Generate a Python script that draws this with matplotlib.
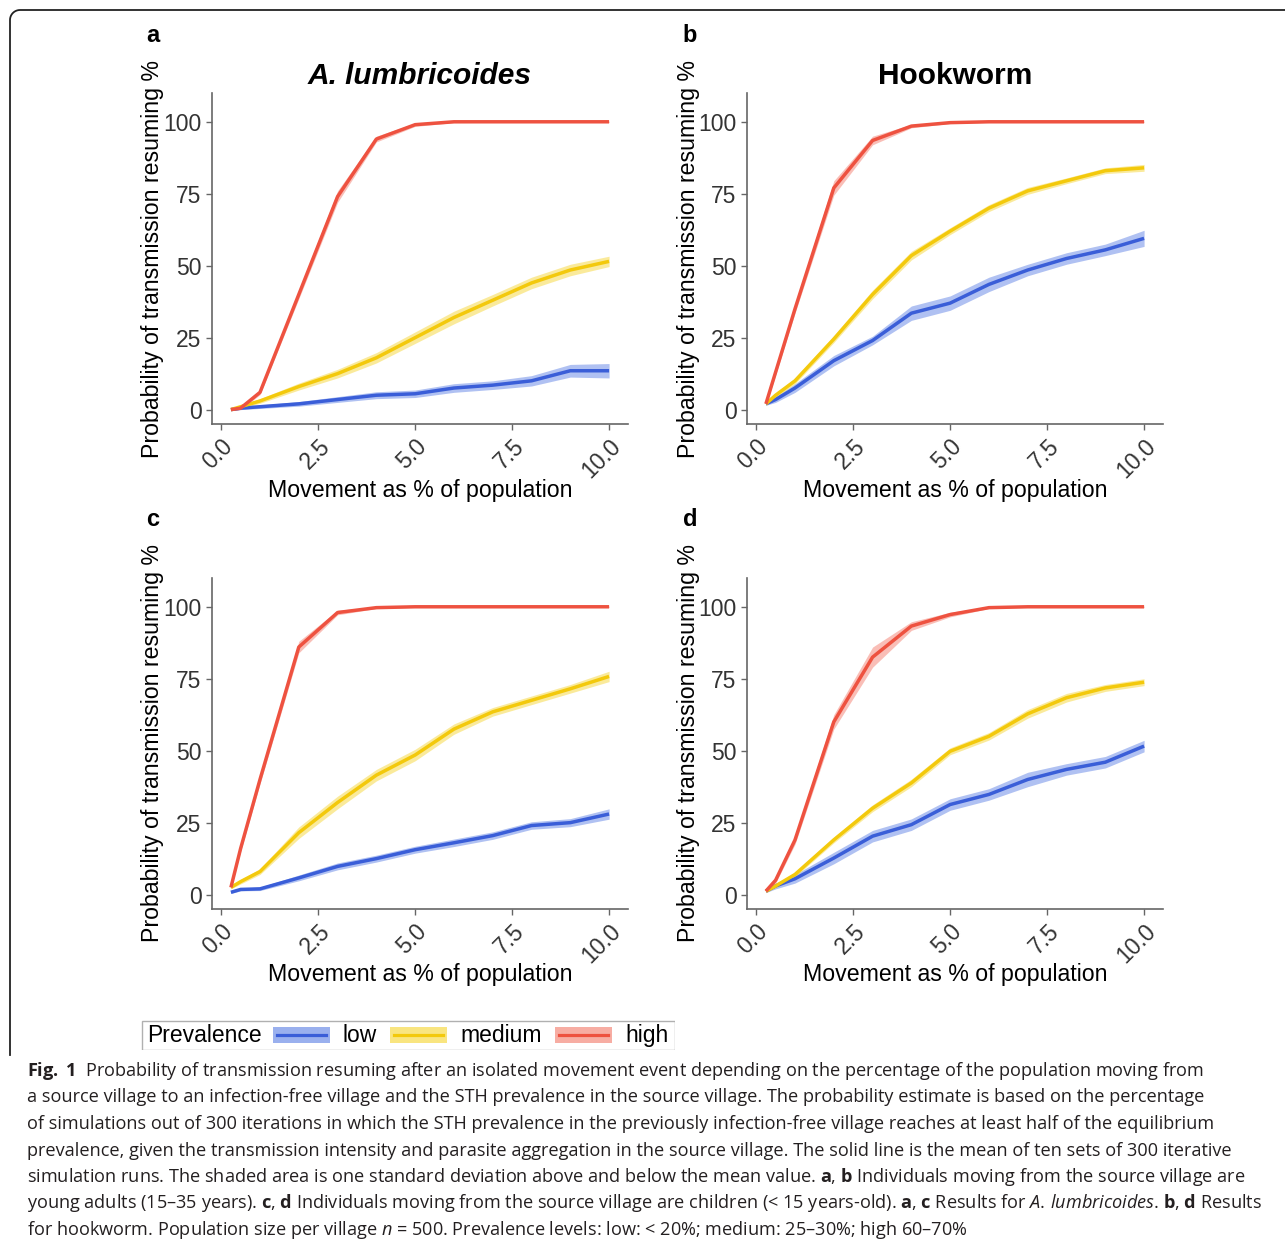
import numpy as np
import matplotlib
matplotlib.use("Agg")
import matplotlib.pyplot as plt
from matplotlib.lines import Line2D
from matplotlib.patches import Rectangle

plt.rcParams['font.family'] = ['Liberation Sans', 'DejaVu Sans']
plt.rcParams['mathtext.fontset'] = 'custom'
plt.rcParams['mathtext.rm'] = 'Open Sans'
plt.rcParams['mathtext.it'] = 'Open Sans:italic'
plt.rcParams['mathtext.bf'] = 'Open Sans:bold'

# movement as % of population (x values of the simulations)
movement = [0.25, 0.5, 1, 2, 3, 4, 5, 6, 7, 8, 9, 10]
levels = ["low", "medium", "high"]
colors = {"low": "#3a5ed8", "medium": "#f3c90c", "high": "#ee5240"}
fills = {"low": "#6f8fe8", "medium": "#f7da4a", "high": "#f58a7c"}

# a: A. lumbricoides, young adults
a_low = [0, 0.5, 1, 2, 3.5, 5, 5.5, 7.5, 8.5, 10, 13.5, 13.5]
a_med = [0, 1, 3, 8, 12.5, 18, 25, 32, 38, 44, 48.5, 51.5]
a_high = [0, 0.5, 6, 40, 74, 94, 99, 100, 100, 100, 100, 100]
a_low_sd = [0.3, 0.5, 0.6, 0.8, 1, 1.2, 1.3, 1.5, 1.5, 1.8, 2.2, 2.5]
a_med_sd = [0.5, 0.6, 0.8, 1.2, 1.5, 1.8, 2, 2.2, 2, 2, 2, 1.8]
a_high_sd = [0.3, 0.5, 0.8, 1.5, 2, 1, 0.6, 0.3, 0.2, 0.2, 0.2, 0.2]

# b: hookworm, young adults
b_low = [2, 3.5, 7.5, 17, 24, 33.5, 37, 43.5, 48.5, 52.5, 55.5, 59.5]
b_med = [2, 5, 10, 24.5, 40, 53.5, 62, 70, 76, 79.5, 83, 84]
b_high = [2, 13, 35, 77, 93.5, 98.5, 99.7, 100, 100, 100, 100, 100]
b_low_sd = [0.5, 1, 1.5, 1.8, 1.5, 2.5, 2.5, 2.5, 2, 2, 2, 2.8]
b_med_sd = [0.5, 0.8, 1, 1.2, 1.5, 1.5, 1.2, 1.2, 1.2, 1, 1, 1.2]
b_high_sd = [0.5, 1, 1.5, 2.5, 1.5, 0.6, 0.3, 0.2, 0.2, 0.2, 0.2, 0.2]

# c: A. lumbricoides, children
c_low = [0.8, 1.8, 2, 5.8, 9.8, 12.5, 15.6, 18, 20.5, 24, 25, 28]
c_med = [2.5, 4.5, 8, 21.5, 32, 41.5, 48.5, 57.5, 63.5, 67.5, 71.5, 75.8]
c_high = [2.5, 16, 40, 86, 98, 99.7, 100, 100, 100, 100, 100, 100]
c_low_sd = [0.4, 0.5, 0.6, 1, 1.2, 1.2, 1.2, 1.3, 1.3, 1.3, 1.4, 1.8]
c_med_sd = [0.5, 0.8, 1, 2, 2.2, 2, 2, 1.8, 1.5, 1.5, 1.5, 1.8]
c_high_sd = [0.5, 1, 1.5, 2, 0.8, 0.3, 0.2, 0.2, 0.2, 0.2, 0.2, 0.2]

# d: hookworm, children
d_low = [1.2, 3, 5.5, 12.7, 20.3, 24.3, 31.3, 34.8, 40, 43.5, 46, 51.6]
d_med = [1.2, 3, 7, 19, 30, 38.8, 49.8, 55, 62.8, 68.4, 71.8, 73.8]
d_high = [1.2, 5, 19, 60, 82.5, 93.3, 97.3, 99.7, 100, 100, 100, 100]
d_low_sd = [0.5, 1, 1.5, 2, 2, 2, 2, 2, 2.5, 2, 2, 2]
d_med_sd = [0.5, 0.6, 0.8, 1, 1.2, 1.3, 1.2, 1.3, 1.5, 1.5, 1.2, 1.2]
d_high_sd = [0.5, 1, 1.5, 2.5, 3.5, 1.5, 0.8, 0.3, 0.2, 0.2, 0.2, 0.2]

panels = [
    ("a", "A. lumbricoides", "italic", (212, 93), {"low": (a_low, a_low_sd), "medium": (a_med, a_med_sd), "high": (a_high, a_high_sd)}),
    ("b", "Hookworm", "normal", (747, 93), {"low": (b_low, b_low_sd), "medium": (b_med, b_med_sd), "high": (b_high, b_high_sd)}),
    ("c", None, "normal", (212, 578), {"low": (c_low, c_low_sd), "medium": (c_med, c_med_sd), "high": (c_high, c_high_sd)}),
    ("d", None, "normal", (747, 578), {"low": (d_low, d_low_sd), "medium": (d_med, d_med_sd), "high": (d_high, d_high_sd)}),
]

x_ticks = [0, 2.5, 5, 7.5, 10]
x_ticklabels = ["0.0", "2.5", "5.0", "7.5", "10.0"]
y_ticks = [0, 25, 50, 75, 100]

caption = [
    r"$\mathbf{Fig.\;1}$  Probability of transmission resuming after an isolated movement event depending on the percentage of the population moving from",
    "a source village to an infection-free village and the STH prevalence in the source village. The probability estimate is based on the percentage",
    "of simulations out of 300 iterations in which the STH prevalence in the previously infection-free village reaches at least half of the equilibrium",
    "prevalence, given the transmission intensity and parasite aggregation in the source village. The solid line is the mean of ten sets of 300 iterative",
    r"simulation runs. The shaded area is one standard deviation above and below the mean value. $\mathbf{a}$, $\mathbf{b}$ Individuals moving from the source village are",
    r"young adults (15–35 years). $\mathbf{c}$, $\mathbf{d}$ Individuals moving from the source village are children (< 15 years-old). $\mathbf{a}$, $\mathbf{c}$ Results for $\mathit{A.\,lumbricoides}$. $\mathbf{b}$, $\mathbf{d}$ Results",
    r"for hookworm. Population size per village $\mathit{n}$ = 500. Prevalence levels: low: < 20%; medium: 25–30%; high 60–70%",
]

W, H = 1285, 1246
fig = plt.figure(figsize=(W / 100, H / 100), dpi=100)
AW, AH = 416, 331
x_span = 10 - 0.25

for label, title, tstyle, (left, top), series in panels:
    ax = fig.add_axes([left / W, 1 - (top + AH) / H, AW / W, AH / H])
    for lev in levels:
        m, s = np.array(series[lev][0]), np.array(series[lev][1])
        ax.fill_between(movement, m - s, m + s, color=fills[lev], alpha=0.55, lw=0)
        ax.plot(movement, m, color=colors[lev], lw=2.5, solid_capstyle="butt")
    ax.set_xlim(0.25 - 0.05 * x_span, 10 + 0.05 * x_span)
    ax.set_ylim(-5, 110)
    ax.set_xticks(x_ticks)
    ax.set_xticklabels(x_ticklabels, rotation=45, ha="right", va="top", rotation_mode="anchor")
    ax.set_yticks(y_ticks)
    ax.tick_params(labelsize=16.5, labelcolor="#333333", color="#666666", length=4, width=1)
    for sp in ["top", "right"]:
        ax.spines[sp].set_visible(False)
    for sp in ["left", "bottom"]:
        ax.spines[sp].set_color("#666666")
        ax.spines[sp].set_linewidth(1.2)
    ax.set_xlabel("Movement as % of population", fontsize=16.7, va="center")
    ax.xaxis.set_label_coords(0.5, -(490 - 424) / AH)
    ax.set_ylabel("Probability of transmission resuming %", fontsize=16.7, va="center")
    ax.yaxis.set_label_coords((153 - 212) / AW, 0.5)
    if title:
        ax.text(0.5, 1 + (93 - 76) / AH, title, transform=ax.transAxes, ha="center", va="center",
                fontsize=21.5, fontweight="bold", style=tstyle)
    lx = 153 if left < 700 else 690
    ly = 35 if top < 300 else 520
    fig.text(lx / W, 1 - ly / H, label, fontsize=17, fontweight="bold", ha="center", va="center")

# legend strip
lax = fig.add_axes([141 / W, 1 - 1050 / H, 534 / W, 30 / H])
lax.set_xlim(0, 534)
lax.set_ylim(30, 0)
lax.axis("off")
lax.add_patch(Rectangle((0.5, 0.5), 533, 29, fill=False, edgecolor="#b0b0b0", lw=1))
lax.text(6, 15.5, "Prevalence", fontsize=16.5, va="center", ha="left")
key_x = {"low": 132, "medium": 249, "high": 414}
for lev in levels:
    kx = key_x[lev]
    lax.add_patch(Rectangle((kx, 7), 57, 16, color=fills[lev], alpha=0.7, lw=0))
    lax.add_line(Line2D([kx + 4, kx + 53], [15, 15], color=colors[lev], lw=2.3))
    lax.text(kx + 70, 15.5, lev, fontsize=16.5, va="center", ha="left")

# caption
for i, line in enumerate(caption):
    fig.text(27 / W, 1 - (1071 + i * 26.5) / H, line, fontsize=13.05, family=["Open Sans", "DejaVu Sans"],
             color="#231f20", va="center", ha="left")

# page frame with rounded corner
r = 10
theta = np.linspace(np.pi / 2, np.pi, 12)
cx, cy = 10 + r, 10 + r
arc_x = cx + r * np.cos(theta)
arc_y = cy - r * np.sin(theta)
fx = np.concatenate([[W + 5], arc_x, [10]])
fy = np.concatenate([[10], arc_y, [1055]])
fig.add_artist(Line2D(fx / W, 1 - fy / H, color="#222222", lw=1.3, transform=fig.transFigure))

fig.savefig("out.png", dpi=100)
